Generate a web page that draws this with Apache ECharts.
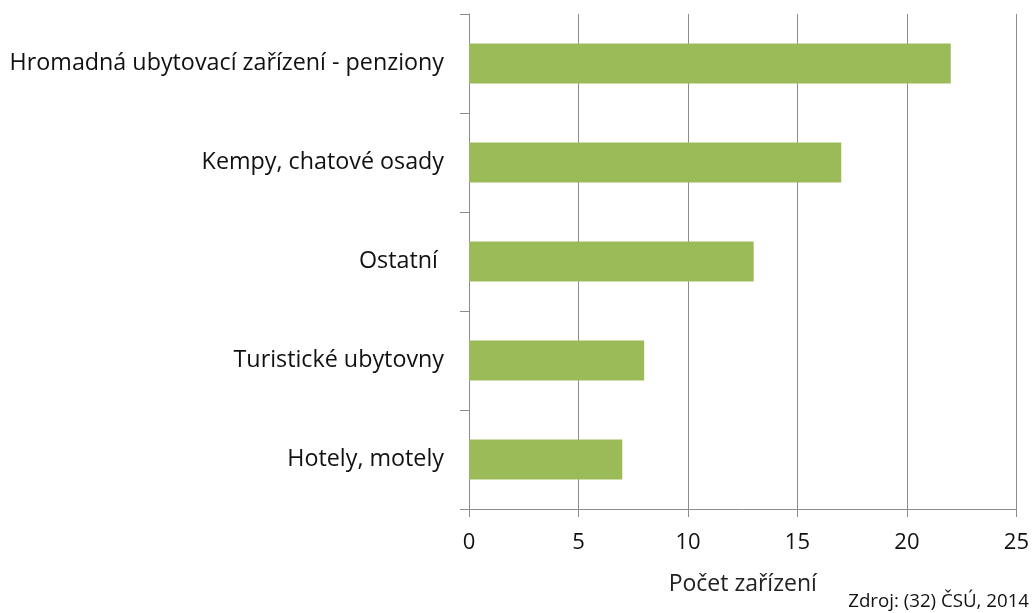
<!DOCTYPE html>
<html>
<head>
<meta charset="utf-8">
<script src="https://cdn.jsdelivr.net/npm/echarts@6/dist/echarts.min.js"></script>
<style>
html, body { margin: 0; padding: 0; background: #fff; }
#chart { width: 1032px; height: 613px; }
</style>
</head>
<body>
<div id="chart"></div>
<script>
// data (bottom to top, as echarts draws category axes)
var categories = ['Hotely, motely', 'Turistické ubytovny', 'Ostatní ', 'Kempy, chatové osady', 'Hromadná ubytovací zařízení - penziony'];
var counts = [7, 8, 13, 17, 22];
var xTicks = [0, 5, 10, 15, 20, 25];

var fontFam = '"Open Sans", "Noto Sans", sans-serif';
var chart = echarts.init(document.getElementById('chart'));

var option = {
	animation : false,
	backgroundColor : '#fff',
	grid : {
		left : 469,
		right : 14,
		top : 14,
		bottom : 104
	},
	xAxis : {
		type : 'value',
		min : xTicks[0],
		max : xTicks[xTicks.length - 1],
		interval : 5,
		name : 'Počet zařízení',
		nameLocation : 'middle',
		nameGap : 64,
		nameTextStyle : {
			color : '#222',
			fontFamily : fontFam,
			fontSize : 23
		},
		axisLine : {
			show : true,
			lineStyle : { color : '#8c8c8c', width : 1 }
		},
		axisTick : {
			show : true,
			length : 8,
			lineStyle : { color : '#8c8c8c' }
		},
		axisLabel : {
			color : '#111',
			fontFamily : fontFam,
			fontSize : 22,
			margin : 23
		},
		splitLine : {
			show : true,
			lineStyle : { color : '#8c8c8c', width : 1 }
		}
	},
	yAxis : {
		type : 'category',
		data : categories,
		axisLine : {
			show : true,
			lineStyle : { color : '#8c8c8c', width : 1 }
		},
		axisTick : {
			show : true,
			length : 9,
			lineStyle : { color : '#8c8c8c' }
		},
		axisLabel : {
			color : '#111',
			fontFamily : fontFam,
			fontSize : 23.3,
			margin : 25
		}
	},
	series : [ {
		type : 'bar',
		data : counts,
		barCategoryGap : '59.5%',
		itemStyle : { color : '#9bbb59' }
	} ],
	graphic : [ {
		type : 'text',
		right : 3,
		top : 592,
		style : {
			text : 'Zdroj: (32) ČSÚ, 2014',
			fill : '#111',
			font : '18.7px ' + fontFam
		}
	} ]
};

chart.setOption(option);
</script>
</body>
</html>
